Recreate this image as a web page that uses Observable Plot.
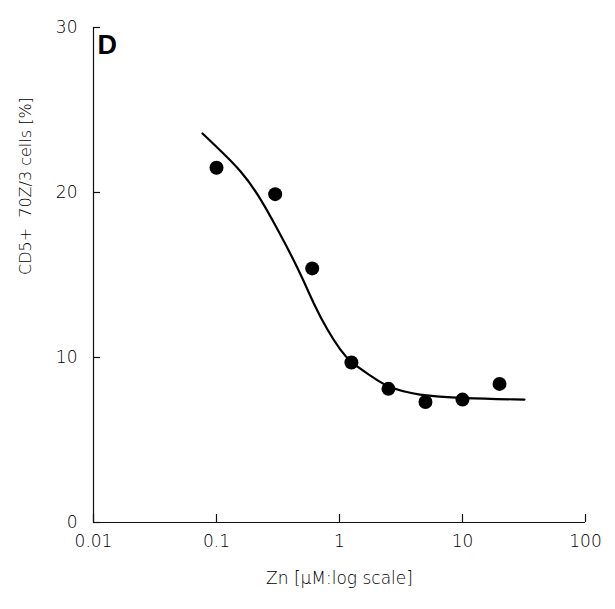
<!DOCTYPE html>
<html>
<head>
<meta charset="utf-8">
<script src="https://cdn.jsdelivr.net/npm/d3@7"></script>
<script src="https://cdn.jsdelivr.net/npm/@observablehq/plot@0.6"></script>
<style>
  html, body { margin: 0; padding: 0; background: #fff; }
  #chart svg { display: block; }
</style>
</head>
<body>
<div id="chart"></div>
<script>
// Measured data points
const zinc = [0.1, 0.3, 0.6, 1.25, 2.5, 5, 10, 20];
const cd5Percent = [21.5, 19.9, 15.4, 9.7, 8.1, 7.3, 7.45, 8.4];

// Fitted curve
const fitZinc = [0.0769, 0.114, 0.157, 0.216, 0.29, 0.40, 0.51, 0.615, 0.798, 1.02, 1.23, 1.79, 2.46, 4.3, 10, 31.9];
const fitPercent = [23.58, 22.36, 21.33, 19.94, 18.24, 16.3, 14.67, 13.27, 11.64, 10.42, 9.7, 8.91, 8.18, 7.7, 7.52, 7.45];

// Axis ticks
const xTicks = [0.01, 0.1, 1, 10, 100];
const xTickLabels = ["0.01", "0.1", "1", "10", "100"];
const yTicks = [0, 10, 20, 30];

const points = zinc.map((z, i) => ({z, p: cd5Percent[i]}));
const fit = fitZinc.map((z, i) => ({z, p: fitPercent[i]}));

const W = 615, H = 609, ML = 93, MR = 30, MT = 27, MB = 87;
const xDomain = [0.01, 100], yDomain = [0, 30];
const frameW = W - ML - MR, frameH = H - MT - MB;
// inward tick lengths (pixels) converted to data units along each axis
const yTickEnd = xDomain[0] * Math.pow(xDomain[1] / xDomain[0], 7 / frameW);
const xTickEnd = yDomain[0] + (yDomain[1] - yDomain[0]) * 8 / frameH;

const font = "DejaVu Sans, sans-serif";

const chart = Plot.plot({
  width: W,
  height: H,
  marginLeft: ML,
  marginRight: MR,
  marginTop: MT,
  marginBottom: MB,
  style: {fontFamily: font, fontSize: "17px", color: "#000", background: "#fff"},
  x: {type: "log", domain: xDomain},
  y: {domain: yDomain},
  marks: [
    Plot.ruleX([xDomain[0]], {stroke: "#111", strokeWidth: 1.2}),
    Plot.ruleY([yDomain[0]], {stroke: "#111", strokeWidth: 1.2}),
    // tick labels
    Plot.axisX({ticks: xTicks, tickFormat: (d) => xTickLabels[xTicks.indexOf(d)], tickSize: 0, tickPadding: 12, label: null, fontWeight: 200, fill: "#000"}),
    Plot.axisY({ticks: yTicks, tickSize: 0, tickPadding: 16, label: null, fontWeight: 200, fill: "#000"}),
    // inward tick marks
    Plot.ruleX(xTicks, {x: (d) => d, y1: () => yDomain[0], y2: () => xTickEnd, stroke: "#111", strokeWidth: 1.2}),
    Plot.ruleY(yTicks, {y: (d) => d, x1: () => xDomain[0], x2: () => yTickEnd, stroke: "#111", strokeWidth: 1.2}),
    Plot.line(fit, {x: "z", y: "p", curve: "basis", stroke: "#000", strokeWidth: 2.2}),
    Plot.dot(points, {x: "z", y: "p", r: 7, fill: "#000", stroke: "none"}),
    Plot.text(["D"], {frameAnchor: "top-left", dx: 4, dy: 7, lineAnchor: "top", textAnchor: "start", fontSize: 27, fontWeight: "bold", fontFamily: "Liberation Sans, Arial, sans-serif", fill: "#000"}),
    Plot.text(["CD5+  70Z/3 cells [%]"], {frameAnchor: "left", rotate: -90, dx: -68, fontSize: 16, fontWeight: 200, fill: "#000"}),
    Plot.text(["Zn [µM:log scale]"], {frameAnchor: "bottom", dy: 61, fontSize: 17, fontWeight: 200, fill: "#000"})
  ]
});

document.getElementById("chart").appendChild(chart);
</script>
</body>
</html>
